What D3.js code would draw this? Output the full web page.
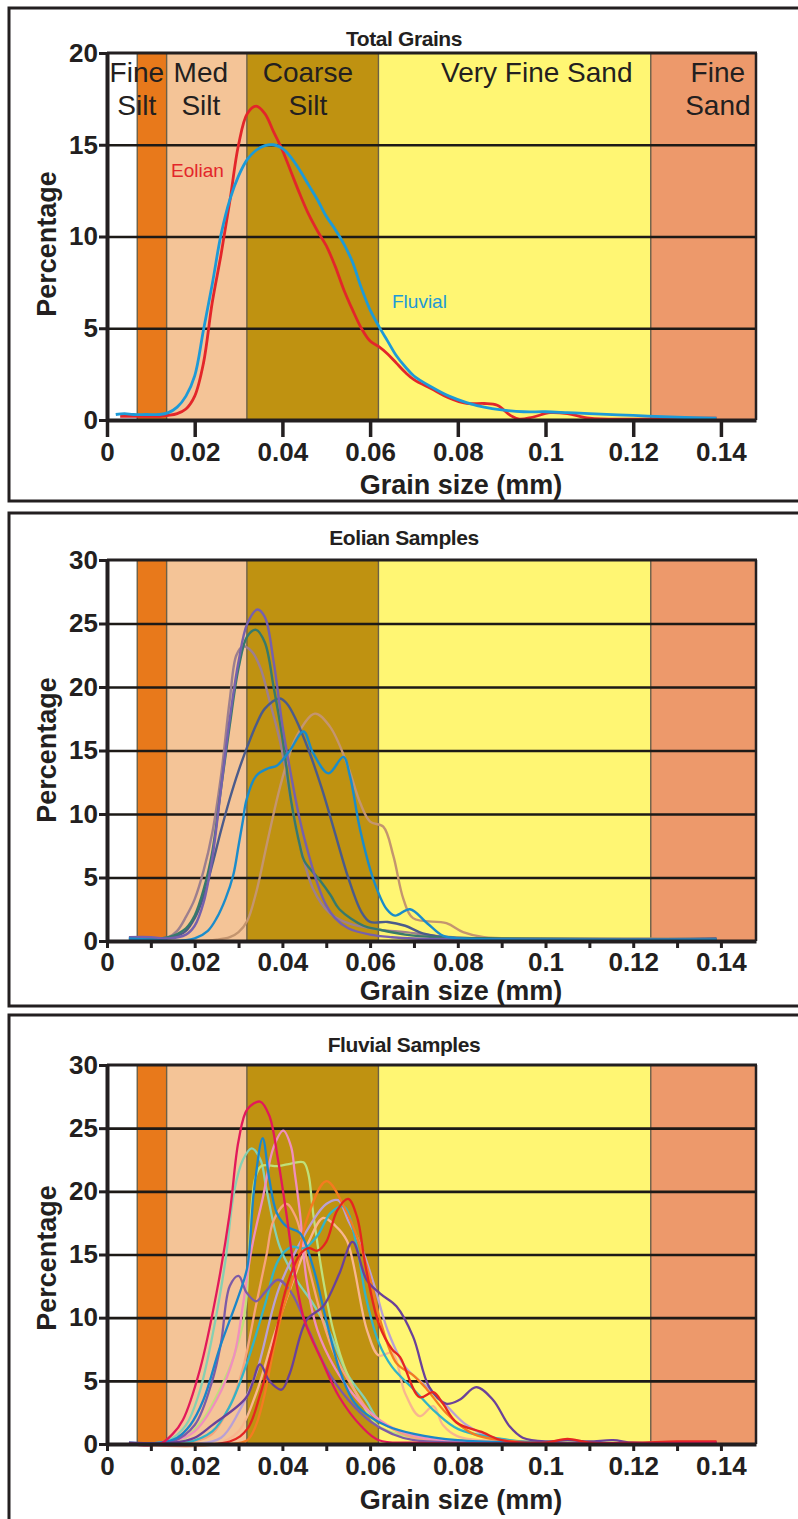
<!DOCTYPE html>
<html><head><meta charset="utf-8">
<script src="https://cdn.jsdelivr.net/npm/d3@7"></script>
<style>
html,body{margin:0;padding:0;background:#fff;}
svg{display:block;}
text{font-family:"Liberation Sans",Arial,Helvetica,sans-serif;fill:#231f20;}
</style></head><body>
<svg id="chart" width="798" height="1519"></svg>
<script>
// ---------------- DATA ----------------
const xTicksMajor = [0, 0.02, 0.04, 0.06, 0.08, 0.1, 0.12, 0.14];
const xTicksMinor = [0, 0.01, 0.02, 0.03, 0.04, 0.05, 0.06, 0.07, 0.08, 0.09, 0.1, 0.11, 0.12, 0.13, 0.14];
const yTicksTotal = [0, 5, 10, 15, 20];
const yTicksSamples = [0, 5, 10, 15, 20, 25, 30];
const xMax = 0.148;

// grain-size classes (mm)
const bandEdges = [0, 0.0069, 0.0136, 0.0319, 0.0619, 0.124, 0.148];
const bandColors = ["#ffffff", "#e8791b", "#f4c497", "#bf9211", "#fff673", "#ed996b"];
const bandLabelLines = [["Fine", "Silt"], ["Med", "Silt"], ["Coarse", "Silt"], ["Very Fine Sand"], ["Fine", "Sand"]];
const bandLabelAt = [0.0068, 0.0214, 0.0458, 0.098, 0.1393];

// Total grains
const totalEolian = [[0.003,0.2],[0.006,0.2],[0.009,0.2],[0.012,0.2],[0.014,0.25],[0.016,0.35],[0.018,0.6],[0.020,1.3],[0.022,3.1],[0.024,6.4],[0.026,9.0],[0.028,11.9],[0.030,15.0],[0.032,16.7],[0.034,17.1],[0.036,16.7],[0.038,15.7],[0.040,14.7],[0.042,13.5],[0.044,12.3],[0.046,11.2],[0.048,10.3],[0.050,9.5],[0.052,8.4],[0.054,7.1],[0.056,6.0],[0.058,5.0],[0.060,4.3],[0.062,4.0],[0.064,3.6],[0.066,3.1],[0.068,2.6],[0.070,2.2],[0.074,1.7],[0.078,1.2],[0.082,0.9],[0.086,0.9],[0.089,0.8],[0.092,0.25],[0.094,0.05],[0.097,0.15],[0.101,0.4],[0.105,0.35],[0.110,0.1],[0.120,0.05],[0.130,0.1],[0.139,0.1]];
const totalFluvial = [[0.002,0.3],[0.004,0.35],[0.006,0.3],[0.009,0.3],[0.012,0.3],[0.014,0.4],[0.016,0.7],[0.018,1.3],[0.020,2.4],[0.022,4.9],[0.024,7.4],[0.026,10.1],[0.028,12.0],[0.030,13.3],[0.032,14.2],[0.034,14.7],[0.036,14.95],[0.038,15.0],[0.040,14.8],[0.042,14.3],[0.044,13.6],[0.046,12.8],[0.048,12.0],[0.050,11.1],[0.052,10.4],[0.054,9.6],[0.056,8.6],[0.058,7.2],[0.060,6.0],[0.062,5.1],[0.064,4.3],[0.066,3.5],[0.068,2.9],[0.070,2.4],[0.074,1.8],[0.078,1.3],[0.082,0.95],[0.086,0.7],[0.090,0.55],[0.095,0.45],[0.100,0.45],[0.105,0.4],[0.110,0.35],[0.120,0.25],[0.130,0.15],[0.139,0.1]];

// Eolian samples
const eolMauve = [[0.005,0.2],[0.010,0.1],[0.014,0.3],[0.016,0.8],[0.018,1.9],[0.020,3.3],[0.022,5.5],[0.024,8.5],[0.026,13],[0.028,19],[0.0295,22.5],[0.031,23.2],[0.033,22.8],[0.035,21.5],[0.037,19],[0.0394,15.8],[0.042,11],[0.0432,8.8],[0.047,4.1],[0.0508,2.2],[0.055,1.4],[0.062,0.9],[0.068,0.7],[0.075,0.4],[0.085,0.2],[0.10,0.15],[0.139,0.15]];
const eolTan = [[0.005,0.1],[0.010,0.0],[0.020,0.0],[0.025,0.1],[0.028,0.3],[0.030,0.7],[0.032,1.6],[0.034,3.8],[0.0365,7.7],[0.039,11.5],[0.041,14],[0.0432,16.1],[0.0474,17.9],[0.0508,16.9],[0.0547,14],[0.0577,10.9],[0.060,9.4],[0.063,9.0],[0.0653,6.7],[0.0676,3.3],[0.0698,1.8],[0.0774,1.4],[0.0812,0.7],[0.086,0.3],[0.10,0.2],[0.139,0.2]];
const eolSlate = [[0.005,0.2],[0.010,0.2],[0.015,0.3],[0.018,0.8],[0.020,1.8],[0.022,3.5],[0.024,6.0],[0.026,8.7],[0.028,11.2],[0.030,13.4],[0.032,15.3],[0.034,17],[0.036,18.3],[0.0394,19.1],[0.041,18.7],[0.043,17.5],[0.046,15],[0.049,12],[0.052,8.5],[0.055,5],[0.058,2.3],[0.060,1.5],[0.064,1.5],[0.068,1.2],[0.072,0.6],[0.080,0.2],[0.139,0.2]];
const eolTeal = [[0.005,0.3],[0.010,0.2],[0.014,0.3],[0.018,1.0],[0.020,2.0],[0.022,4.0],[0.024,7],[0.026,12],[0.028,17],[0.030,21.5],[0.032,24],[0.034,24.5],[0.036,23.5],[0.038,20],[0.040,16],[0.042,11],[0.044,7.5],[0.045,6.3],[0.0485,4.8],[0.051,3.6],[0.053,2.5],[0.0585,1.2],[0.062,0.9],[0.068,0.5],[0.075,0.3],[0.090,0.2],[0.139,0.15]];
const eolPurple = [[0.005,0.3],[0.010,0.3],[0.014,0.2],[0.018,0.5],[0.020,1.2],[0.022,3],[0.024,6.5],[0.026,12],[0.028,17.5],[0.030,22],[0.032,25],[0.0343,26.1],[0.036,25.5],[0.038,22],[0.040,17],[0.042,13],[0.044,9.5],[0.046,6.8],[0.048,4.5],[0.050,2.8],[0.052,1.8],[0.055,1.0],[0.060,0.5],[0.065,0.3],[0.070,0.2],[0.080,0.15],[0.10,0.1],[0.139,0.1]];
const eolBlue = [[0.005,0.2],[0.010,0.1],[0.015,0.0],[0.020,0.2],[0.023,0.8],[0.025,1.8],[0.027,3.3],[0.0288,5.2],[0.030,7.5],[0.031,9.5],[0.0318,11.1],[0.034,13],[0.0368,13.6],[0.0387,13.8],[0.0417,15],[0.0448,16.5],[0.047,14.8],[0.0505,13.2],[0.0539,14.5],[0.0554,13],[0.0577,8.8],[0.0608,4.8],[0.0638,2.5],[0.0657,2.0],[0.0691,2.5],[0.073,1.4],[0.0767,0.4],[0.0812,0.2],[0.10,0.1],[0.139,0.1]];

// Fluvial samples
const fluCrimson = [[0.005,0],[0.012,0],[0.015,0.8],[0.0173,1.9],[0.0212,5.9],[0.025,12],[0.028,18.3],[0.030,24],[0.032,26.5],[0.0349,27.1],[0.037,26],[0.039,22.5],[0.041,18],[0.0426,14],[0.045,9.8],[0.049,6.6],[0.053,3.7],[0.058,1.4],[0.062,0.3],[0.070,0.1],[0.139,0.1]];
const fluBlue = [[0.005,0.1],[0.012,0.1],[0.016,0.5],[0.019,1.5],[0.022,3.5],[0.0258,7.7],[0.030,11.7],[0.032,14],[0.0335,20],[0.0355,24.2],[0.037,21],[0.0387,18.3],[0.041,17.2],[0.044,16.7],[0.047,14],[0.050,9.8],[0.053,5.9],[0.056,3.5],[0.059,2.4],[0.064,1.4],[0.070,0.8],[0.080,0.3],[0.10,0.1],[0.139,0.1]];
const fluPink = [[0.005,0],[0.015,0.2],[0.020,1],[0.025,3.5],[0.029,7],[0.031,11],[0.033,15.5],[0.0356,19.6],[0.038,23.5],[0.0402,24.8],[0.042,23.5],[0.0428,21.5],[0.044,18.3],[0.0455,13],[0.048,9],[0.052,6],[0.056,4],[0.060,2.5],[0.065,1.3],[0.072,0.5],[0.080,0.2],[0.139,0.1]];
const fluMint = [[0.005,0],[0.014,0.3],[0.018,1.5],[0.021,4],[0.024,8.5],[0.027,14.5],[0.029,20],[0.031,22.5],[0.033,23.4],[0.035,22.5],[0.0364,20.1],[0.0394,15.6],[0.0432,13],[0.047,11.1],[0.0508,8.8],[0.0547,5.6],[0.059,3.5],[0.062,1.9],[0.068,0.8],[0.075,0.3],[0.139,0.1]];
const fluLime = [[0.005,0],[0.014,0],[0.018,0.5],[0.022,2],[0.026,4.5],[0.029,7],[0.031,9.5],[0.0318,11.5],[0.0337,20.9],[0.0352,22],[0.039,22],[0.042,22.2],[0.0448,22.3],[0.0459,21.4],[0.047,18.3],[0.0493,13],[0.0516,9],[0.0547,5.6],[0.0585,3],[0.062,1.4],[0.070,0.5],[0.080,0.2],[0.139,0.1]];
const fluOrange = [[0.005,0],[0.020,0],[0.028,0],[0.032,0.3],[0.034,1.5],[0.036,4],[0.038,7.5],[0.040,10.5],[0.0432,14],[0.0455,17.7],[0.050,20.8],[0.0547,18.3],[0.0593,14],[0.0623,9.8],[0.066,6.4],[0.070,5.4],[0.073,4.3],[0.0775,2.4],[0.0835,0.8],[0.090,0.3],[0.10,0.1],[0.139,0.1]];
const fluRed = [[0.005,0],[0.028,0.2],[0.032,1.2],[0.035,4],[0.038,8],[0.041,12.5],[0.044,15],[0.046,15.5],[0.048,15.3],[0.050,16],[0.0525,18.5],[0.055,19.4],[0.057,18],[0.059,14],[0.062,9.5],[0.065,7.5],[0.0668,6.9],[0.0713,3.7],[0.0744,4.1],[0.0766,3.2],[0.0797,1.7],[0.0858,0.9],[0.090,0.3],[0.100,0.1],[0.105,0.4],[0.110,0.1],[0.120,0.1],[0.130,0.2],[0.139,0.2]];
const fluCyan = [[0.005,0],[0.018,0.1],[0.024,1],[0.028,3],[0.032,6.5],[0.036,11],[0.039,14.5],[0.042,15.6],[0.045,15.5],[0.048,16.5],[0.051,18.3],[0.054,18.8],[0.057,15.6],[0.059,11.7],[0.062,8],[0.065,6.1],[0.070,4.3],[0.075,2.5],[0.080,1.2],[0.090,0.4],[0.10,0.1],[0.139,0.1]];
const fluLavender = [[0.005,0],[0.020,0],[0.026,0.5],[0.030,2.5],[0.034,5.6],[0.0394,12.5],[0.047,17.7],[0.050,19],[0.0527,19.3],[0.055,17.7],[0.058,15.6],[0.061,12.5],[0.064,9],[0.068,6.1],[0.073,4.5],[0.0775,3],[0.082,1.5],[0.088,0.5],[0.10,0.1],[0.139,0.1]];
const fluPeach = [[0.005,0],[0.020,0.2],[0.024,0.8],[0.028,3],[0.031,6],[0.034,11],[0.0364,15],[0.038,17.7],[0.0409,19],[0.043,18],[0.046,14],[0.049,10],[0.052,7],[0.056,4.5],[0.060,2.5],[0.065,1.2],[0.070,0.5],[0.080,0.2],[0.139,0.1]];
const fluSalmon = [[0.005,0],[0.025,0],[0.030,1],[0.034,4],[0.038,8.5],[0.042,12.5],[0.046,16],[0.0493,17.9],[0.052,17.3],[0.0547,16.1],[0.0593,9],[0.062,7],[0.065,7.2],[0.068,4],[0.0713,2.2],[0.0744,3.0],[0.0766,1.5],[0.080,0.6],[0.090,0.2],[0.139,0.1]];
const fluViolet = [[0.005,0],[0.015,0.2],[0.020,1.5],[0.024,5],[0.026,8],[0.028,12.5],[0.030,13.3],[0.0318,12],[0.034,11.3],[0.036,12],[0.039,13],[0.042,12],[0.046,9],[0.050,6],[0.055,3.5],[0.060,1.8],[0.065,0.8],[0.070,0.3],[0.139,0.1]];
const fluPurple = [[0.005,0.1],[0.015,0.1],[0.020,0.5],[0.024,1.5],[0.0318,3.7],[0.0349,6.3],[0.037,5.0],[0.0398,4.3],[0.0417,5.6],[0.0455,9.8],[0.0493,10.9],[0.053,13.5],[0.056,16],[0.0592,13],[0.0623,11.9],[0.066,10.9],[0.0698,8.5],[0.0735,4.5],[0.0773,3.2],[0.0804,3.5],[0.0842,4.5],[0.088,3.5],[0.0918,1.4],[0.0948,0.5],[0.100,0.2],[0.105,0.3],[0.110,0.2],[0.1154,0.3],[0.120,0.1],[0.139,0.1]];

// ---------------- LAYOUT / STYLE ----------------
const panels = [
  {title:"Total Grains", titleY:46, top:53, bottom:420, yMax:20, yTicks:yTicksTotal, ylabY:244, axTitleY:494, type:"total",
   series:[{d:totalEolian,c:"#e3262a"},{d:totalFluvial,c:"#1d9ad7"}], width:2.8},
  {title:"Eolian Samples", titleY:545, top:560, bottom:941, yMax:30, yTicks:yTicksSamples, ylabY:750, axTitleY:1000, labPad:12, type:"samples",
   series:[{d:eolMauve,c:"#9d7f8e"},{d:eolTan,c:"#c4956f"},{d:eolSlate,c:"#4b5b8b"},{d:eolTeal,c:"#377a6b"},{d:eolPurple,c:"#7660ad"},{d:eolBlue,c:"#1a8ccb"}], width:2.4},
  {title:"Fluvial Samples", titleY:1052, top:1065, bottom:1444, yMax:30, yTicks:yTicksSamples, ylabY:1258, axTitleY:1509, labPad:13, type:"samples",
   series:[{d:fluMint,c:"#86d0b2"},{d:fluLime,c:"#bfe07a"},{d:fluPeach,c:"#f6a37b"},{d:fluSalmon,c:"#f8b690"},{d:fluLavender,c:"#b9a0d4"},{d:fluPink,c:"#f08fbd"},{d:fluCyan,c:"#33b3c6"},{d:fluViolet,c:"#7d5ba7"},{d:fluOrange,c:"#f47b20"},{d:fluBlue,c:"#1b86c9"},{d:fluPurple,c:"#6b4199"},{d:fluRed,c:"#e52521"},{d:fluCrimson,c:"#e2195a"}], width:2.3}
];
const plotLeft = 107, plotRight = 756;
const ink = "#231f20";

const svg = d3.select("#chart");
svg.append("rect").attr("width",798).attr("height",1519).attr("fill","#fff");

// outer frames
[[8,501],[513,1006],[1015,1560]].forEach(([a,b]) => {
  svg.append("rect").attr("x",9).attr("y",a).attr("width",830).attr("height",b-a)
    .attr("fill","none").attr("stroke",ink).attr("stroke-width",3);
});

const fmt = d => d === 0 ? "0" : d3.format(".2~f")(d);

panels.forEach(p => {
  const g = svg.append("g");
  const x = d3.scaleLinear().domain([0, xMax]).range([plotLeft, plotRight]);
  const y = d3.scaleLinear().domain([0, p.yMax]).range([p.bottom, p.top]);

  // bands
  for (let i = 0; i < bandColors.length; i++) {
    g.append("rect").attr("x", x(bandEdges[i])).attr("y", p.top)
      .attr("width", x(bandEdges[i+1]) - x(bandEdges[i])).attr("height", p.bottom - p.top)
      .attr("fill", bandColors[i]);
  }
  for (let i = 1; i < bandEdges.length - 1; i++) {
    g.append("line").attr("x1", x(bandEdges[i])).attr("x2", x(bandEdges[i]))
      .attr("y1", p.top).attr("y2", p.bottom).attr("stroke", "#6b6048").attr("stroke-width", 1.4);
  }
  // band labels
  if (p.type === "total") {
    bandLabelLines.forEach((lines, i) => {
      lines.forEach((t, j) => {
        g.append("text").attr("x", x(bandLabelAt[i])).attr("y", 82 + j * 33)
          .attr("text-anchor", "middle").attr("font-size", 28).text(t);
      });
    });
  }
  // gridlines
  const grid = g.append("g").attr("transform", `translate(${plotLeft},0)`)
    .call(d3.axisLeft(y).tickValues(p.yTicks.filter(v => v > 0 && v < p.yMax))
      .tickSize(-(plotRight - plotLeft)).tickFormat(""));
  grid.select(".domain").remove();
  grid.selectAll("line").attr("stroke", "#1d1a17").attr("stroke-width", 2.6);

  // curves
  const line = d3.line().x(d => x(d[0])).y(d => y(d[1])).curve(d3.curveCatmullRom.alpha(0.5));
  p.series.forEach(s => {
    g.append("path").datum(s.d).attr("d", line).attr("fill", "none")
      .attr("stroke", s.c).attr("stroke-width", p.width).attr("stroke-linejoin", "round");
  });

  // frame top / right
  g.append("line").attr("x1", plotLeft).attr("x2", plotRight + 1).attr("y1", p.top).attr("y2", p.top)
    .attr("stroke", ink).attr("stroke-width", 3);
  g.append("line").attr("x1", plotRight).attr("x2", plotRight).attr("y1", p.top).attr("y2", p.bottom)
    .attr("stroke", ink).attr("stroke-width", 2.5);

  // y axis
  const ya = g.append("g").attr("transform", `translate(${plotLeft},0)`)
    .call(d3.axisLeft(y).tickValues(p.yTicks).tickSize(8).tickPadding(1).tickSizeOuter(0).tickFormat(d3.format("d")));
  ya.select(".domain").attr("stroke", ink).attr("stroke-width", 4);
  ya.selectAll(".tick line").attr("stroke", ink).attr("stroke-width", 3);
  ya.selectAll("text").attr("font-size", 26).attr("font-weight", "bold")
    .attr("font-family", '"Liberation Sans",Arial,sans-serif').attr("fill", ink);

  // x axis
  if (p.type === "total") {
    const xa = g.append("g").attr("transform", `translate(0,${p.bottom})`)
      .call(d3.axisBottom(x).tickValues(xTicksMajor).tickSize(17).tickPadding(6).tickSizeOuter(0).tickFormat(fmt));
    xa.select(".domain").attr("stroke", ink).attr("stroke-width", 4);
    xa.selectAll(".tick line").attr("stroke", ink).attr("stroke-width", 3.5);
    xa.selectAll("text").attr("font-size", 26).attr("font-weight", "bold")
      .attr("font-family", '"Liberation Sans",Arial,sans-serif').attr("fill", ink);
  } else {
    const xm = g.append("g").attr("transform", `translate(0,${p.bottom})`)
      .call(d3.axisBottom(x).tickValues(xTicksMinor).tickSize(7).tickSizeOuter(0).tickFormat(""));
    xm.select(".domain").attr("stroke", ink).attr("stroke-width", 4);
    xm.selectAll(".tick line").attr("stroke", ink).attr("stroke-width", 3);
    const xl = g.append("g").attr("transform", `translate(0,${p.bottom})`)
      .call(d3.axisBottom(x).tickValues(xTicksMajor).tickSize(0).tickPadding(p.labPad).tickFormat(fmt));
    xl.select(".domain").remove();
    xl.selectAll("text").attr("font-size", 26).attr("font-weight", "bold")
      .attr("font-family", '"Liberation Sans",Arial,sans-serif').attr("fill", ink);
  }

  // titles
  g.append("text").attr("x", 404).attr("y", p.titleY).attr("text-anchor", "middle")
    .attr("font-size", 21).attr("font-weight", "bold").attr("letter-spacing", -0.4).text(p.title);
  g.append("text").attr("x", 461).attr("y", p.axTitleY).attr("text-anchor", "middle")
    .attr("font-size", 27).attr("font-weight", "bold").text("Grain size (mm)");
  g.append("text").attr("transform", `translate(56,${p.ylabY}) rotate(-90)`).attr("text-anchor", "middle")
    .attr("font-size", 27).attr("font-weight", "bold").text("Percentage");

  if (p.type === "total") {
    g.append("text").attr("x", 171).attr("y", 177).attr("font-size", 19)
      .attr("font-family", '"Open Sans",sans-serif').style("fill", "#e3262a").text("Eolian");
    g.append("text").attr("x", 392).attr("y", 308).attr("font-size", 19)
      .attr("font-family", '"Open Sans",sans-serif').style("fill", "#1d9ad7").text("Fluvial");
  }
});
</script>
</body></html>
